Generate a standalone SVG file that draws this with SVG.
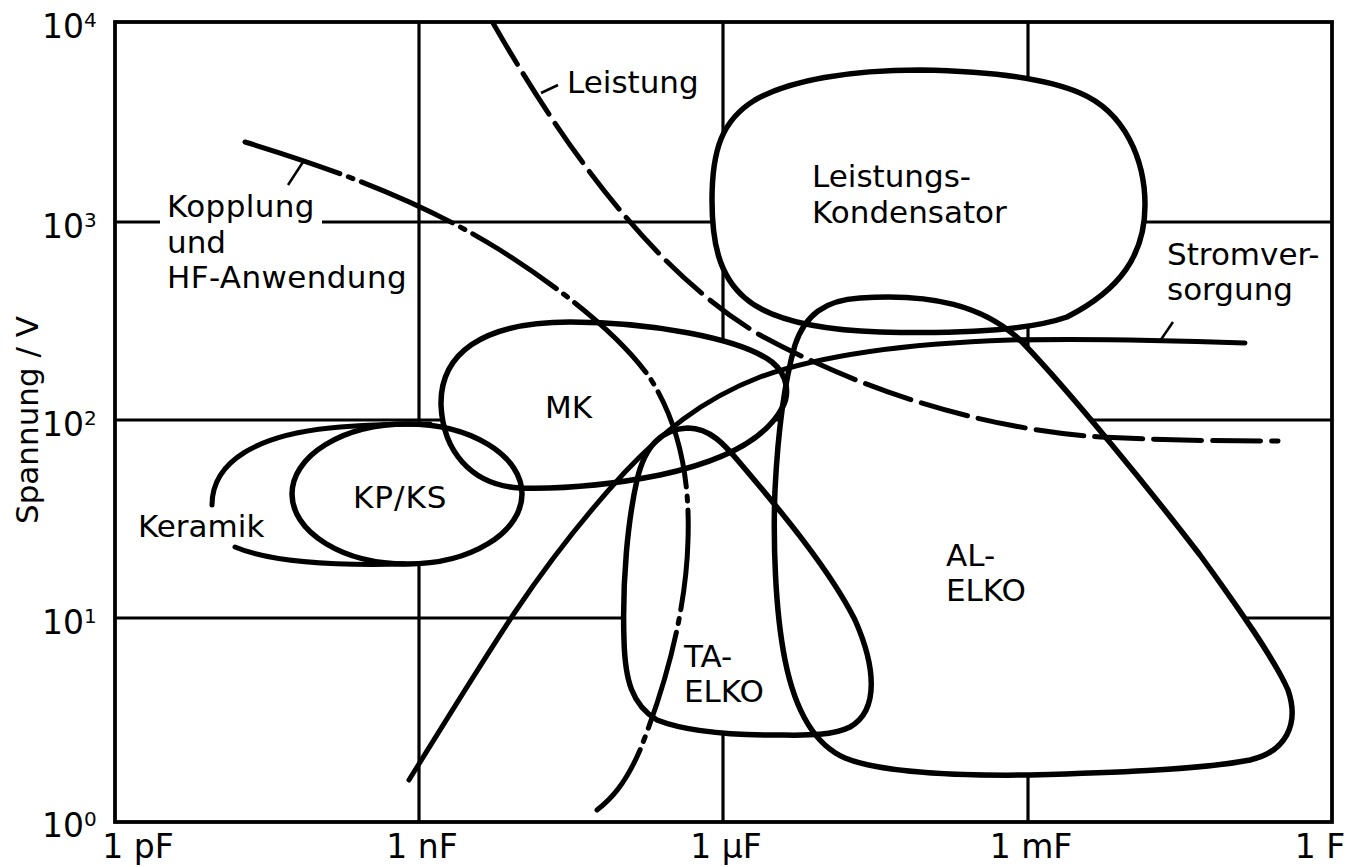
<svg xmlns="http://www.w3.org/2000/svg" width="1362" height="867" viewBox="0 0 1362 867">
<style>
text{font-family:"DejaVu Sans","Liberation Sans",sans-serif;font-size:31px;fill:#000}
.grid{stroke:#000;stroke-width:3.2;fill:none}
.frame{stroke:#000;stroke-width:3.8;fill:none}
.fillw{fill:#fff;stroke:none}
.blob{fill:none;stroke:#000;stroke-width:5.5;stroke-linejoin:round}
.curve{fill:none;stroke:#000;stroke-width:5;stroke-linecap:round}
.dash{stroke-dasharray:48 11}
.dashdot{stroke-dasharray:100 9 5 9}
.leader{stroke:#000;stroke-width:2.5;fill:none}
.tick{font-size:33px}
.sup{font-size:20px}
</style>
<defs>
<path id="p-lk" d="M 920 70 C 980 71, 1040 76, 1080 93 C 1125 112, 1145 160, 1145 205 C 1145 255, 1120 290, 1067 317 C 1030 330, 960 334, 880 332 C 820 330, 770 320, 745 298 C 718 275, 712 240, 712 200 C 712 150, 722 120, 755 100 C 790 80, 850 70, 920 70 Z"/>
<path id="p-al" d="M 860 298 C 930 293, 985 305, 1023 343 C 1070 392, 1150 490, 1200 555 C 1240 610, 1275 660, 1288 690 C 1300 725, 1285 752, 1250 760 C 1200 770, 1100 773, 1030 775 C 950 776, 880 772, 845 758 C 815 745, 795 710, 785 660 C 775 610, 773 540, 775 490 C 778 430, 785 380, 795 345 C 805 315, 825 300, 860 298 Z"/>
<path id="p-ta" d="M 688 428 C 710 428, 725 445, 740 463 C 780 510, 830 570, 855 620 C 875 665, 880 710, 850 727 C 830 737, 800 735, 773 735 C 740 735, 690 733, 657 720 C 632 705, 625 680, 624 640 C 622 580, 628 520, 637 480 C 645 445, 662 429, 688 428 Z"/>
<path id="p-mk" d="M 570 322 C 650 322, 740 338, 772 362 C 788 375, 790 395, 782 408 C 765 440, 720 462, 660 475 C 610 485, 560 489, 520 488 C 470 485, 443 450, 441 405 C 440 355, 480 322, 570 322 Z"/>
<ellipse id="p-kp" cx="407" cy="494" rx="115" ry="70"/>
</defs>

<g id="grid">
<rect class="frame" x="115" y="22" width="1217" height="800"/>
<line class="grid" x1="419" y1="22" x2="419" y2="822"/>
<line class="grid" x1="723" y1="22" x2="723" y2="822"/>
<line class="grid" x1="1028" y1="22" x2="1028" y2="822"/>
<line class="grid" x1="115" y1="222" x2="160" y2="222"/>
<line class="grid" x1="322" y1="222" x2="1332" y2="222"/>
<line class="grid" x1="115" y1="420" x2="1332" y2="420"/>
<line class="grid" x1="115" y1="618" x2="1332" y2="618"/>
</g>

<g id="axis-labels">
<text class="tick" x="84" y="38" text-anchor="end">10</text><text class="sup" x="84" y="27">4</text>
<text class="tick" x="84" y="238" text-anchor="end">10</text><text class="sup" x="84" y="227">3</text>
<text class="tick" x="84" y="436" text-anchor="end">10</text><text class="sup" x="84" y="425">2</text>
<text class="tick" x="84" y="634" text-anchor="end">10</text><text class="sup" x="84" y="623">1</text>
<text class="tick" x="84" y="837" text-anchor="end">10</text><text class="sup" x="84" y="826">0</text>
<text class="tick" x="138" y="858" text-anchor="middle">1 pF</text>
<text class="tick" x="422" y="858" text-anchor="middle">1 nF</text>
<text class="tick" x="726" y="858" text-anchor="middle">1 µF</text>
<text class="tick" x="1031" y="858" text-anchor="middle">1 mF</text>
<text class="tick" x="1320" y="858" text-anchor="middle">1 F</text>
<text transform="translate(38,420) rotate(-90)" text-anchor="middle">Spannung / V</text>
</g>

<g id="region-fills">
<use href="#p-lk" class="fillw"/>
<use href="#p-al" class="fillw"/>
<use href="#p-ta" class="fillw"/>
<use href="#p-mk" class="fillw"/>
<use href="#p-kp" class="fillw"/>
</g>

<g id="leistungs-kondensator">
<use href="#p-lk" class="blob"/>
<text x="812" y="187">Leistungs-</text>
<text x="812" y="223">Kondensator</text>
</g>
<g id="al-elko">
<use href="#p-al" class="blob"/>
<text x="946" y="566">AL-</text>
<text x="946" y="601">ELKO</text>
</g>
<g id="ta-elko">
<use href="#p-ta" class="blob"/>
<text x="684" y="667">TA-</text>
<text x="684" y="702">ELKO</text>
</g>
<g id="mk">
<use href="#p-mk" class="blob"/>
<text x="545" y="418">MK</text>
</g>
<g id="kp-ks">
<use href="#p-kp" class="blob"/>
<text x="353" y="508" letter-spacing="1">KP/KS</text>
</g>
<g id="keramik">
<path class="curve" d="M 212 505 C 212 460, 260 435, 330 428 C 370 424, 410 424, 430 424"/>
<path class="curve" d="M 235 547 C 270 562, 330 566, 405 564"/>
<text x="138" y="537">Keramik</text>
</g>

<g id="connectors">
<path id="leistung-curve" class="curve dash" d="M 493 23 C 560 140, 650 270, 760 335 C 880 400, 1000 430, 1100 437 C 1180 441, 1240 441, 1278 441"/>
<path id="kopplung-curve" class="curve dashdot" d="M 245 142 C 330 168, 420 200, 500 250 C 560 288, 620 335, 650 378 C 680 425, 690 480, 688 540 C 686 620, 660 700, 640 750 C 625 785, 610 800, 597 810"/>
<path id="strom-curve" class="curve" d="M 409 780 C 440 730, 480 665, 515 612 C 550 560, 590 510, 625 472 C 660 435, 700 400, 760 377 C 830 352, 920 343, 1010 340 C 1100 338, 1190 341, 1245 343"/>
<line class="leader" x1="541" y1="93" x2="558" y2="85"/>
<line class="leader" x1="303" y1="162" x2="288" y2="185"/>
<line class="leader" x1="1160" y1="341" x2="1173" y2="322"/>
</g>

<g id="curve-labels">
<text x="567" y="93">Leistung</text>
<text x="167" y="217" letter-spacing="0.4">Kopplung</text>
<text x="167" y="253">und</text>
<text x="167" y="288" letter-spacing="0.4">HF-Anwendung</text>
<text x="1167" y="265">Stromver-</text>
<text x="1167" y="300">sorgung</text>
</g>
</svg>
